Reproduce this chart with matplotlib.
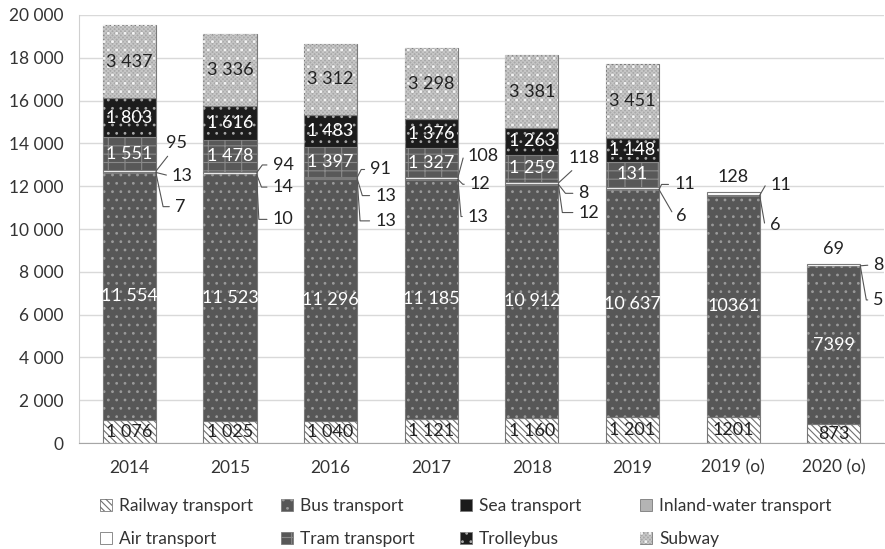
import numpy as np
import matplotlib
matplotlib.use("Agg")
import matplotlib.pyplot as plt
from matplotlib.patches import Patch
from matplotlib.ticker import FuncFormatter

plt.rcParams['font.family'] = ['Lato', 'DejaVu Sans']
plt.rcParams['hatch.linewidth'] = 0.8

# passengers, million
years = ['2014', '2015', '2016', '2017', '2018', '2019', '2019 (o)', '2020 (o)']
railway = [1076, 1025, 1040, 1121, 1160, 1201, 1201, 873]
bus = [11554, 11523, 11296, 11185, 10912, 10637, 10361, 7399]
sea = [7, 10, 13, 13, 12, 6, 6, 5]
inland = [13, 14, 13, 12, 8, 11, 11, 8]
air = [95, 94, 91, 108, 118, 128, 128, 69]
tram = [1551, 1478, 1397, 1327, 1259, 1131, 0, 0]
trolley = [1803, 1616, 1483, 1376, 1263, 1148, 0, 0]
subway = [3437, 3336, 3312, 3298, 3381, 3451, 0, 0]
# figure as printed in the source (2019 tram is shown as 131)
tram_printed = [1551, 1478, 1397, 1327, 1259, 131, 0, 0]
use_sep = [True, True, True, True, True, True, False, False]

def fmt(v, sep=True):
    s = f'{int(v):,}'
    return s.replace(',', ' ') if sep else s.replace(',', '')

fig = plt.figure(figsize=(8.85, 5.49), dpi=100)
ax = fig.add_axes([0.0893, 0.193, 0.9097, 0.7797])

x = np.arange(len(years))
w = 0.527
edge = '#7a7a7a'

styles = [
    # name, values, face, [(hatch, hatch colour), ...]
    ('Railway transport', railway, 'white', [('\\\\\\\\\\', '#707070')]),
    ('Bus transport', bus, '#575757', [('..', '#9a9a9a')]),
    ('Sea transport', sea, '#1a1a1a', []),
    ('Inland-water transport', inland, '#b4b4b4', []),
    ('Air transport', air, 'white', []),
    ('Tram transport', tram, '#585858', [('--|', '#8a8a8a')]),
    ('Trolleybus', trolley, '#1c1c1c', [('..', '#a8a8a8')]),
    ('Subway', subway, '#a8a8a8', [('xxxxxxxx', '#c6c6c6'), ('..', '#f4f4f4')]),
]

bottom = np.zeros(len(years))
bottoms = {}
handles = {}
series_vals = {}
for name, vals, face, hatches in styles:
    series_vals[name] = vals
    vals = np.array(vals, dtype=float)
    m = vals > 0
    ax.bar(x[m], vals[m], w, bottom=bottom[m], color=face, edgecolor=edge, linewidth=0.8, zorder=2)
    parts = [Patch(facecolor=face, edgecolor=edge, linewidth=0.6)]
    for hatch, hcol in hatches:
        ax.bar(x[m], vals[m], w, bottom=bottom[m], color='none', edgecolor=hcol, hatch=hatch, linewidth=0, zorder=3)
        parts.append(Patch(facecolor='none', edgecolor=hcol, hatch=hatch, linewidth=0))
    handles[name] = tuple(parts)
    bottoms[name] = bottom.copy()
    bottom = bottom + vals

# labels inside the big segments
inside = [
    ('Railway transport', railway, '#222222'),
    ('Bus transport', bus, 'white'),
    ('Tram transport', tram_printed, 'white'),
    ('Trolleybus', trolley, 'white'),
    ('Subway', subway, '#222222'),
]
for name, shown, col in inside:
    for i in range(len(years)):
        h = series_vals[name][i]
        if h <= 0:
            continue
        ax.text(x[i], bottoms[name][i] + h / 2, fmt(shown[i], use_sep[i]),
                ha='center', va='center', fontsize=13, color=col, zorder=5)

# small segments: labels beside the bar with leader lines
# (year index, series, dx px, dy px, leader angle / 'up' / None for straight)
small = [
    (0, 'Air transport', 10, 28, 'up'), (0, 'Inland-water transport', 16, -4, None), (0, 'Sea transport', 19, -34, -78),
    (1, 'Air transport', 16, 8, 54), (1, 'Inland-water transport', 16, -13, -69), (1, 'Sea transport', 16, -45, -87),
    (2, 'Air transport', 13, 8, 63), (2, 'Inland-water transport', 18, -17, -73), (2, 'Sea transport', 18, -42, -86),
    (3, 'Air transport', 10, 22, 75), (3, 'Inland-water transport', 12, -5, -45), (3, 'Sea transport', 10, -37, -85),
    (4, 'Air transport', 10, 25, 'up'), (4, 'Inland-water transport', 20, -9, -52), (4, 'Sea transport', 20, -28, -82),
    (5, 'Inland-water transport', 15, 5, 63), (5, 'Sea transport', 17, -26, -60),
    (6, 'Inland-water transport', 11, 10, 60), (6, 'Sea transport', 10, -29, -80),
    (7, 'Inland-water transport', 13, 1, None), (7, 'Sea transport', 13, -34, -80),
]
for i, name, dx, dy, ang in small:
    val = series_vals[name][i]
    y0 = bottoms[name][i] + val / 2
    ap = dict(arrowstyle='-', color='#555555', lw=0.8, shrinkA=2, shrinkB=0)
    if ang == 'up':
        ap['relpos'] = (0.3, 0.05)
        ap['connectionstyle'] = 'arc3,rad=0'
    elif ang is None:
        ap['relpos'] = (0, 0.5)
        ap['connectionstyle'] = 'arc3,rad=0'
    else:
        ap['relpos'] = (0, 0.5)
        ap['connectionstyle'] = f'angle,angleA=0,angleB={ang},rad=0'
    ax.annotate(fmt(val), xy=(x[i] + w / 2, y0), xytext=(dx, dy), textcoords='offset pixels',
                ha='left', va='center', fontsize=13, color='#222222', arrowprops=ap, zorder=5)

# air labels placed above the short bars
for i in [6, 7]:
    ax.annotate(fmt(air[i]), xy=(x[i], bottom[i]), xytext=(0, 15), textcoords='offset pixels',
                ha='center', va='center', fontsize=13, color='#222222')

ax.set_xlim(-0.5, len(years) - 0.5)
ax.set_ylim(0, 20000)
ax.set_yticks(np.arange(0, 20001, 2000))
ax.yaxis.set_major_formatter(FuncFormatter(lambda v, p: fmt(v)))
ax.set_xticks(x)
ax.set_xticklabels(years)
ax.tick_params(axis='y', length=0, pad=11, labelsize=12.5, colors='#333333')
ax.tick_params(axis='x', length=0, pad=12, labelsize=12.5, colors='#333333')
ax.yaxis.grid(True, color='#d9d9d9', lw=1)
ax.set_axisbelow(True)
for s in ['top', 'right']:
    ax.spines[s].set_visible(False)
ax.spines['left'].set_color('#d0d0d0')
ax.spines['bottom'].set_color('#a6a6a6')

# legend: four columns of two entries each, evenly spaced
columns = [['Railway transport', 'Air transport'], ['Bus transport', 'Tram transport'],
           ['Sea transport', 'Trolleybus'], ['Inland-water transport', 'Subway']]
col_x = [100, 281, 460, 640]
for names, cx in zip(columns, col_x):
    fig.legend([handles[n] for n in names], names, loc='upper left',
               bbox_to_anchor=(cx / 885, 1 - 498 / 549), ncol=1, frameon=False,
               fontsize=12.5, handlelength=0.7, handleheight=0.7, handletextpad=0.4,
               labelspacing=1.0, borderpad=0, borderaxespad=0, labelcolor='#333333')

fig.savefig('out.png', dpi=100)
